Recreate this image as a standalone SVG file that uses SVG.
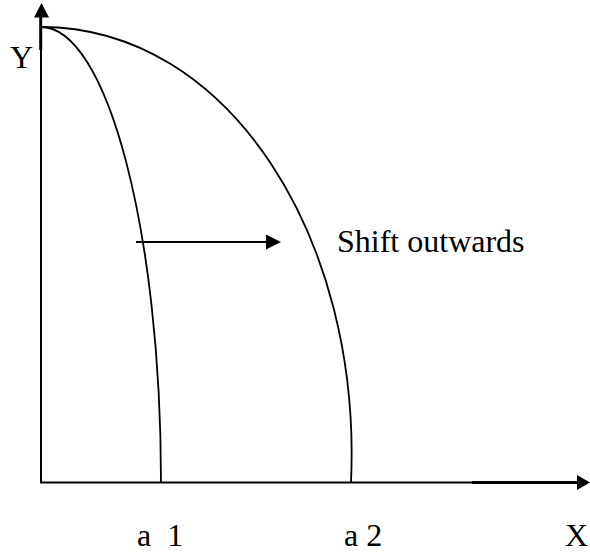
<svg xmlns="http://www.w3.org/2000/svg" width="590" height="554" viewBox="0 0 590 554">
<style>
.t{font-family:"Liberation Serif","Times New Roman",serif;font-size:32px;fill:#000}
.c{fill:none;stroke:#000;stroke-width:1.8}
.ax{stroke:#000;stroke-width:2;fill:none}
</style>
<rect width="590" height="554" fill="#fff"/>
<g id="axes">
<line class="ax" x1="41" y1="483" x2="41" y2="17"/>
<line x1="40.7" y1="17" x2="40.7" y2="50" stroke="#000" stroke-width="3"/>
<polygon points="41.5,3 34,17.5 49,17.5" fill="#000"/>
<line class="ax" x1="40" y1="482.5" x2="472" y2="482.5"/>
<line x1="472" y1="482.5" x2="578" y2="482.5" stroke="#000" stroke-width="3"/>
<polygon points="577,475 590,482.5 577,490" fill="#000"/>
</g>
<g id="curve-a1"><path class="c" d="M41,27 C107,27 161,231 161,482"/></g>
<g id="curve-a2"><path class="c" d="M41,27 C230,27 362,240 351,482"/></g>
<g id="connectors">
<line x1="136" y1="242" x2="267" y2="242" stroke="#000" stroke-width="2"/>
<polygon points="266,234.5 281,242 266,249.5" fill="#000"/>
</g>
<g id="labels">
<text class="t" x="10" y="68">Y</text>
<text class="t" x="337" y="252">Shift outwards</text>
<text class="t" x="137" y="546" xml:space="preserve">a  1</text>
<text class="t" x="344" y="546">a 2</text>
<text class="t" x="565" y="546">X</text>
</g>
</svg>
